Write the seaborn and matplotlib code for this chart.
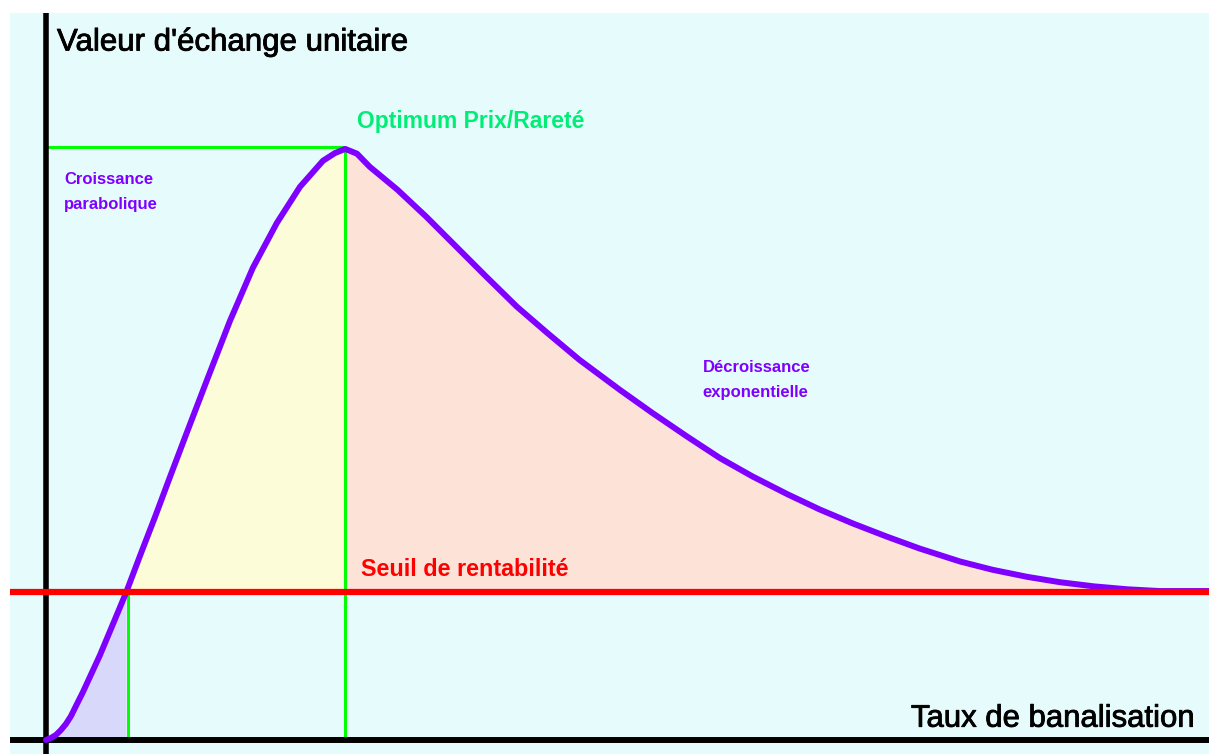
import numpy as np
import pandas as pd
import matplotlib
matplotlib.use("Agg")
import matplotlib.pyplot as plt
import matplotlib.patheffects as pe
import seaborn as sns

# courbe (taux de banalisation, valeur d'echange)
taux = [0.0, 0.43, 0.86, 1.29, 1.72, 2.16, 2.67, 3.19, 4.66, 5.78, 6.9,
        8.1, 9.4, 10.69, 12.16, 13.88, 15.86, 17.84, 19.91, 21.9, 23.88,
        24.91, 25.8, 26.81, 27.9, 30.3, 32.8, 35.4, 38.0, 40.6, 43.2, 46.0,
        49.5, 52.3, 55.3, 58.1, 60.9, 63.9, 66.7, 69.6, 72.5, 75.3, 78.8,
        81.6, 84.6, 87.4, 90.3, 93.2, 96.0, 100.3]
valeur = [0.0, 0.34, 0.85, 1.69, 2.71, 4.06, 6.09, 8.12, 14.38, 19.63, 24.9,
          31.13, 37.73, 44.5, 52.1, 60.9, 70.9, 79.9, 87.5, 93.6, 98.0, 99.3,
          100.0, 99.2, 97.0, 93.1, 88.5, 83.4, 78.3, 73.3, 68.9, 64.3, 59.2,
          55.3, 51.3, 47.7, 44.6, 41.6, 39.0, 36.6, 34.4, 32.4, 30.2, 28.8,
          27.6, 26.7, 26.0, 25.5, 25.2, 25.2]
seuil = 25.0
x_seuil = 6.9      # croisement courbe / seuil
x_optimum = 25.8   # sommet
y_optimum = 100.0

df = pd.DataFrame({"taux": taux, "valeur": valeur})
x = np.array(taux)
y = np.array(valeur)

sns.set_style("white")
plt.rcParams["font.family"] = ["Liberation Sans", "DejaVu Sans"]

fig = plt.figure(figsize=(12.09, 7.54), dpi=100, facecolor="white")
ax = fig.add_axes([10 / 1209, 0, 1199 / 1209, 741 / 754])
ax.set_facecolor("#e6fcfc")
ax.set_xlim(-3.1, 100.26)
ax.set_ylim(-2.37, 123.0)
for s in ax.spines.values():
    s.set_visible(False)
ax.set_xticks([])
ax.set_yticks([])

# zones colorees
m1 = x <= x_seuil
ax.fill_between(x[m1], 0, y[m1], color="#d8d8fa", lw=0, zorder=1)
m2 = (x >= x_seuil) & (x <= x_optimum)
ax.fill_between(x[m2], seuil, y[m2], color="#fcfdd8", lw=0, zorder=1)
m3 = x >= x_optimum
ax.fill_between(x[m3], seuil, y[m3], color="#fde2d8", lw=0, zorder=1)

# reperes verts
vert = dict(color="#00ff00", lw=0.75, antialiased=False, zorder=2)
ax.plot([0, x_optimum], [y_optimum + 0.3, y_optimum + 0.3], **vert)
ax.plot([x_optimum, x_optimum], [0, y_optimum + 0.3], **vert)
ax.plot([x_seuil + 0.15, x_seuil + 0.15], [0, seuil], **vert)

# axes noirs
ax.axvline(0, color="black", lw=4, zorder=3)
ax.axhline(0, color="black", lw=4.3, zorder=3)

sns.lineplot(data=df, x="taux", y="valeur", color="#7f00ff", lw=4.3,
             sort=False, ax=ax, zorder=4, solid_joinstyle="round",
             solid_capstyle="round")
ax.axhline(seuil, color="#ff0000", lw=4.5, zorder=5)
ax.set_xlabel("")
ax.set_ylabel("")

epais = [pe.withStroke(linewidth=0.6, foreground="black")]
ax.text(0.95, 118.0, "Valeur d'échange unitaire", fontsize=22.5, color="black",
        ha="left", va="center", path_effects=epais)
ax.text(99.05, 3.6, "Taux de banalisation", fontsize=22.4, color="black",
        ha="right", va="center", path_effects=epais)
ax.text(26.8, 104.6, "Optimum Prix/Rareté", fontsize=16.5, fontweight="bold",
        color="#00ee77", ha="left", va="center")
ax.text(27.2, 28.8, "Seuil de rentabilité", fontsize=16.8, fontweight="bold",
        color="#ff0000", ha="left", va="center")
ax.text(1.55, 92.7, "Croissance\nparabolique", fontsize=12, fontweight="bold",
        color="#7f00ff", ha="left", va="center", linespacing=1.85)
ax.text(56.6, 60.9, "Décroissance\nexponentielle", fontsize=12, fontweight="bold",
        color="#7f00ff", ha="left", va="center", linespacing=1.85)

fig.savefig("out.png", dpi=100, facecolor="white")
